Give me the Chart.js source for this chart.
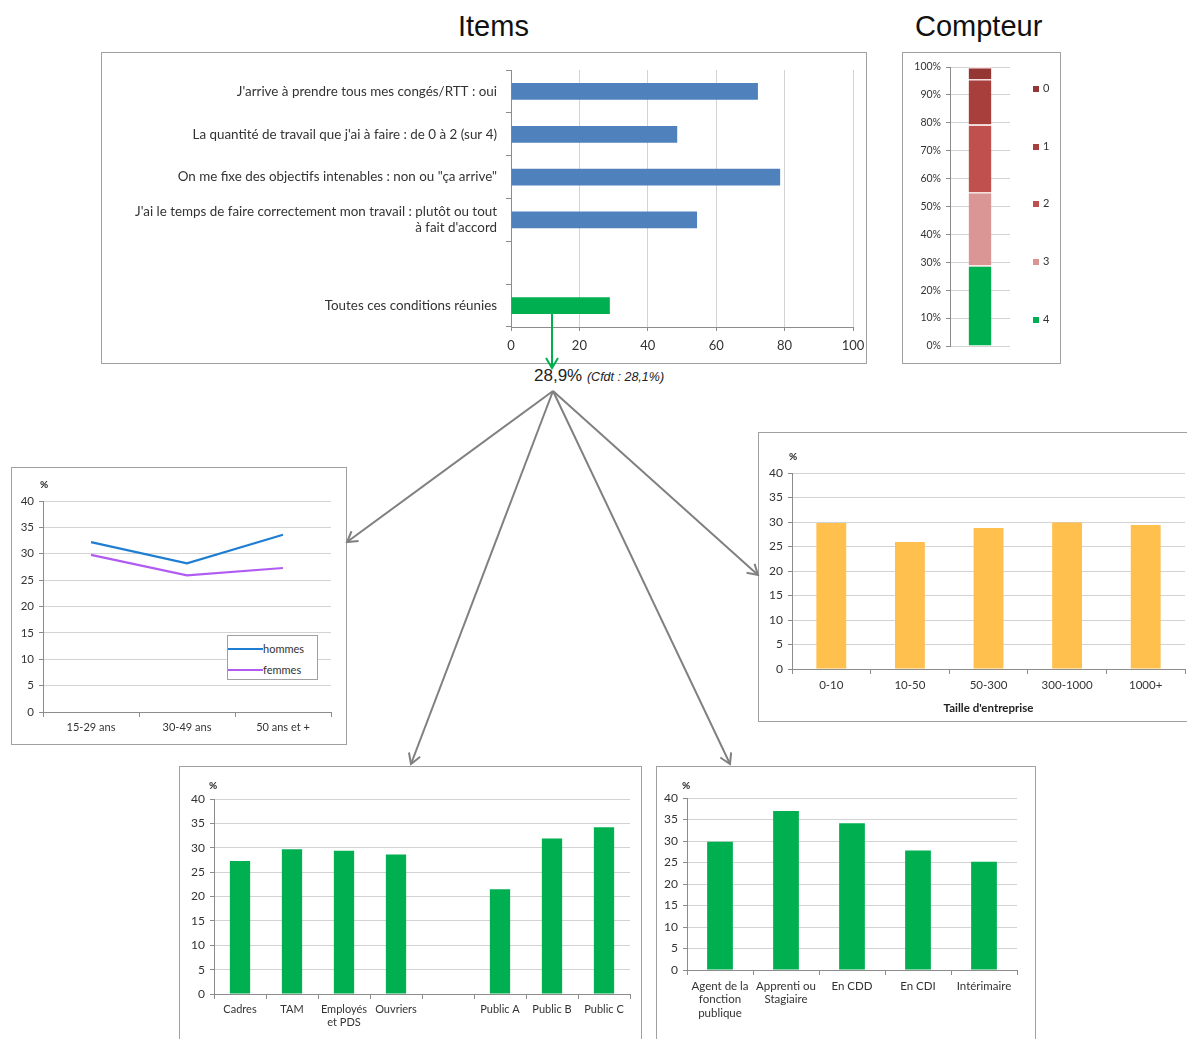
<!DOCTYPE html>
<html>
<head>
<meta charset="utf-8">
<script src="https://cdn.jsdelivr.net/npm/chart.js@4.4.0/dist/chart.umd.min.js"></script>
<style>
body{margin:0;background:#fff;width:1187px;height:1039px;position:relative;overflow:hidden;font-family:Lato,sans-serif;}
canvas{position:absolute;box-shadow:0 0 0 1px #a0a0a0;background:#fff;}
.title{position:absolute;font-family:"Liberation Sans",Arial,sans-serif;font-size:29px;color:#111;}
.pct{position:absolute;font-weight:bold;font-size:10px;color:#222;}
.legend{position:absolute;font-size:11px;color:#333;}
#result{position:absolute;left:534px;top:366px;font-family:"Liberation Sans",Arial,sans-serif;font-size:17px;color:#222;white-space:nowrap;}
#result i{font-size:12.5px;}
svg{position:absolute;left:0;top:0;}
</style>
</head>
<body>
<div class="title" style="left:458px;top:10px;">Items</div>
<div class="title" style="left:915px;top:10px;">Compteur</div>

<canvas id="items"></canvas>
<canvas id="compteur"></canvas>
<canvas id="age"></canvas>
<canvas id="taille"></canvas>
<canvas id="cs"></canvas>
<canvas id="contrat"></canvas>

<div id="compteurLegend" class="legend"></div>
<div id="ageLegend" class="legend"></div>

<div class="pct" style="left:40px;top:478px;">%</div>
<div class="pct" style="left:789px;top:450px;">%</div>
<div class="pct" style="left:209px;top:779px;">%</div>
<div class="pct" style="left:682px;top:779px;">%</div>

<div id="result">28,9% <i>(Cfdt : 28,1%)</i></div>

<svg width="1187" height="1039">
  <defs>
    <marker id="headGray" markerWidth="14" markerHeight="14" refX="12" refY="7" orient="auto" markerUnits="userSpaceOnUse">
      <path d="M2,1 L12,7 L2,13" fill="none" stroke="#808080" stroke-width="2"/>
    </marker>
    <marker id="headGreen" markerWidth="14" markerHeight="14" refX="12" refY="7" orient="auto" markerUnits="userSpaceOnUse">
      <path d="M2,1 L12,7 L2,13" fill="none" stroke="#00B050" stroke-width="2"/>
    </marker>
  </defs>
  <line x1="552" y1="313" x2="552" y2="368" stroke="#00B050" stroke-width="2" marker-end="url(#headGreen)"/>
  <g stroke="#808080" stroke-width="2" marker-end="url(#headGray)">
    <line x1="553" y1="391" x2="347" y2="542"/>
    <line x1="553" y1="391" x2="411" y2="764"/>
    <line x1="553" y1="391" x2="730" y2="764"/>
    <line x1="553" y1="391" x2="758" y2="575"/>
  </g>
</svg>

<script>
// data
const itemLabels = [
    "J'arrive à prendre tous mes congés/RTT : oui",
    "La quantité de travail que j'ai à faire : de 0 à 2 (sur 4)",
    'On me fixe des objectifs intenables : non ou "ça arrive"',
    ["J'ai le temps de faire correctement mon travail : plutôt ou tout", "à fait d'accord"],
    "",
    "Toutes ces conditions réunies"
];
const itemValues = [72.2, 48.6, 78.7, 54.4, null, 28.9];

const compteurLabels = ['4', '3', '2', '1', '0'];
const compteurValues = [28.9, 26.3, 24.2, 16.3, 4.3];

const ageLabels = ['15-29 ans', '30-49 ans', '50 ans et +'];
const hommesValues = [32.2, 28.2, 33.6];
const femmesValues = [29.8, 25.9, 27.3];

const tailleLabels = ['0-10', '10-50', '50-300', '300-1000', '1000+'];
const tailleValues = [29.8, 25.9, 28.8, 29.9, 29.4];

const csLabels = ['Cadres', 'TAM', ['Employés', 'et PDS'], 'Ouvriers', '', 'Public A', 'Public B', 'Public C'];
const csValues = [27.3, 29.7, 29.4, 28.6, null, 21.5, 31.9, 34.2];

const contratLabels = [['Agent de la', 'fonction', 'publique'], ['Apprenti ou', 'Stagiaire'], 'En CDD', 'En CDI', 'Intérimaire'];
const contratValues = [29.8, 37.0, 34.1, 27.8, 25.2];

// styles
const AXIS = '#8c8c8c';
const GRID = '#d3d3d3';
const TXT = '#333';
const GREEN = '#00B050';
const BLUE = '#4F81BD';
const ORANGE = '#FFC04D';
const compteurColors = ['#00B050', '#D99694', '#C0504D', '#A83F3C', '#943634'];

Chart.defaults.font.family = 'Lato, sans-serif';
Chart.defaults.color = TXT;
Chart.defaults.animation = false;

// place a canvas on the page and work out paddings so the plot area lands where wanted
function place(id, box, plot){
    const c = document.getElementById(id);
    c.width = box.w; c.height = box.h;
    c.style.left = box.x + 'px'; c.style.top = box.y + 'px';
    return {
        ctx: c.getContext('2d'),
        padding: {left: 0, top: plot.top - box.y, right: box.x + box.w - plot.right, bottom: 0},
        yw: plot.left - box.x,
        xh: box.y + box.h - plot.bottom
    };
}

function baseOptions(p){
    return {
        responsive: false,
        maintainAspectRatio: false,
        layout: {padding: p.padding},
        plugins: {legend: {display: false}, tooltip: {enabled: false}, title: {display: false}}
    };
}

function valueY(p, max, step, size, fmt){
    return {
        min: 0, max: max,
        ticks: {stepSize: step, font: {size: size}, padding: 5, callback: fmt || (v => v)},
        grid: {color: GRID, tickLength: 4, tickColor: AXIS},
        border: {color: AXIS},
        afterFit: s => { s.width = p.yw; }
    };
}

function catX(p, size){
    return {
        offset: true,
        ticks: {font: {size: size}, maxRotation: 0, autoSkip: false, padding: 4},
        grid: {offset: true, drawOnChartArea: false, tickLength: 5, tickColor: AXIS},
        border: {color: AXIS},
        afterFit: s => { s.height = p.xh; }
    };
}

// Items
(function(){
    const p = place('items', {x: 102, y: 53, w: 764, h: 310}, {left: 511, top: 68, right: 853, bottom: 327});
    const opts = baseOptions(p);
    opts.indexAxis = 'y';
    opts.scales = {
        x: {
            min: 0, max: 100,
            ticks: {stepSize: 20, font: {size: 13}, padding: 7},
            grid: {color: GRID, tickLength: 4, tickColor: AXIS},
            border: {color: AXIS},
            // drop the room kept for the last label so the layout padding decides the edge
            afterFit: s => { s.height = p.xh; s.paddingRight = 0; s.paddingLeft = 0; }
        },
        y: {
            ticks: {font: {size: 13.4}, autoSkip: false, padding: 9},
            grid: {offset: true, drawOnChartArea: false, tickLength: 5, tickColor: AXIS},
            border: {color: AXIS},
            afterFit: s => { s.width = p.yw; }
        }
    };
    new Chart(p.ctx, {
        type: 'bar',
        data: {
            labels: itemLabels,
            datasets: [{
                data: itemValues,
                backgroundColor: itemValues.map((v, i) => i === itemValues.length - 1 ? GREEN : BLUE),
                barPercentage: 0.39, categoryPercentage: 1
            }]
        },
        options: opts
    });
})();

// Compteur
(function(){
    const p = place('compteur', {x: 903, y: 53, w: 157, h: 310}, {left: 950, top: 67, right: 1010, bottom: 346});
    const opts = baseOptions(p);
    opts.scales = {
        x: {
            stacked: true,
            ticks: {display: false},
            grid: {display: false},
            border: {display: false},
            afterFit: s => { s.height = p.xh; }
        },
        y: Object.assign(valueY(p, 100, 10, 10.5, v => v + '%'), {stacked: true})
    };
    const chart = new Chart(p.ctx, {
        type: 'bar',
        data: {
            labels: [''],
            datasets: compteurLabels.map((l, i) => ({
                label: l,
                data: [compteurValues[i]],
                backgroundColor: compteurColors[i],
                borderColor: '#f4dede',
                borderWidth: {top: 1.5},
                borderSkipped: false,
                barPercentage: 0.38, categoryPercentage: 1
            }))
        },
        options: opts
    });
    // vertical legend, 0 at top
    const lg = document.getElementById('compteurLegend');
    lg.style.left = '1033px'; lg.style.top = '81px';
    chart.data.datasets.slice().reverse().forEach(ds => {
        const row = document.createElement('div');
        row.style.cssText = 'height:57.7px;display:flex;align-items:flex-start;gap:4px;';
        row.innerHTML = '<span style="display:inline-block;width:6px;height:6px;margin-top:5px;background:' +
            ds.backgroundColor + '"></span><span>' + ds.label + '</span>';
        lg.appendChild(row);
    });
})();

// Age
(function(){
    const p = place('age', {x: 12, y: 468, w: 334, h: 276}, {left: 43, top: 501, right: 331, bottom: 712});
    const opts = baseOptions(p);
    opts.scales = {x: catX(p, 11), y: valueY(p, 40, 5, 11.5)};
    const chart = new Chart(p.ctx, {
        type: 'line',
        data: {
            labels: ageLabels,
            datasets: [
                {label: 'hommes', data: hommesValues, borderColor: '#1F7ED2', borderWidth: 2.2, pointRadius: 0, tension: 0},
                {label: 'femmes', data: femmesValues, borderColor: '#B05CF2', borderWidth: 2.2, pointRadius: 0, tension: 0}
            ]
        },
        options: opts
    });
    const lg = document.getElementById('ageLegend');
    lg.style.cssText += 'left:227px;top:635px;width:91px;height:45px;border:1px solid #a0a0a0;background:#fff;padding-top:2px;box-sizing:border-box;';
    chart.data.datasets.forEach(ds => {
        const row = document.createElement('div');
        row.style.cssText = 'height:21px;display:flex;align-items:center;';
        row.innerHTML = '<span style="display:inline-block;width:35px;height:2px;background:' +
            ds.borderColor + '"></span><span>' + ds.label + '</span>';
        lg.appendChild(row);
    });
})();

// Taille d'entreprise
(function(){
    const p = place('taille', {x: 759, y: 433, w: 432, h: 288}, {left: 792, top: 473, right: 1185, bottom: 669});
    const opts = baseOptions(p);
    const x = catX(p, 11.5);
    x.title = {display: true, text: "Taille d'entreprise", font: {size: 11.5, weight: 'bold'}, padding: {top: 2, bottom: 6}, color: '#222'};
    opts.scales = {x: x, y: valueY(p, 40, 5, 12)};
    new Chart(p.ctx, {
        type: 'bar',
        data: {labels: tailleLabels, datasets: [{data: tailleValues, backgroundColor: ORANGE, barPercentage: 0.38, categoryPercentage: 1}]},
        options: opts
    });
})();

// Catégorie socio-professionnelle
(function(){
    const p = place('cs', {x: 180, y: 767, w: 461, h: 280}, {left: 214, top: 799, right: 630, bottom: 994});
    const opts = baseOptions(p);
    opts.scales = {x: catX(p, 11), y: valueY(p, 40, 5, 12)};
    new Chart(p.ctx, {
        type: 'bar',
        data: {labels: csLabels, datasets: [{data: csValues, backgroundColor: GREEN, barPercentage: 0.39, categoryPercentage: 1}]},
        options: opts
    });
})();

// Type de contrat
(function(){
    const p = place('contrat', {x: 657, y: 767, w: 378, h: 280}, {left: 687, top: 798, right: 1017, bottom: 970});
    const opts = baseOptions(p);
    opts.scales = {x: catX(p, 11.5), y: valueY(p, 40, 5, 12)};
    new Chart(p.ctx, {
        type: 'bar',
        data: {labels: contratLabels, datasets: [{data: contratValues, backgroundColor: GREEN, barPercentage: 0.39, categoryPercentage: 1}]},
        options: opts
    });
})();
</script>
</body>
</html>
